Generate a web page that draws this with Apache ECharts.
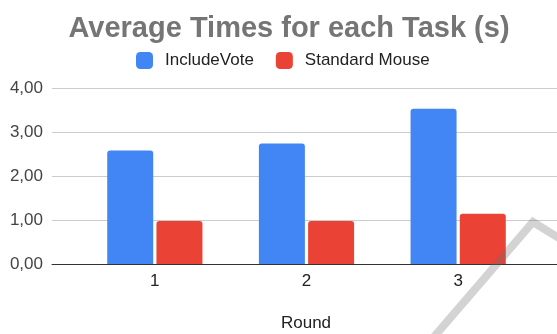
<!DOCTYPE html>
<html>
<head>
<meta charset="utf-8">
<script src="https://cdn.jsdelivr.net/npm/echarts@6/dist/echarts.min.js"></script>
<style>
  html, body { margin: 0; padding: 0; background: #fff; }
  #chart { width: 557px; height: 334px; }
</style>
</head>
<body>
<div id="chart"></div>
<script>
// Rounds on the x axis and average task times (seconds) per input method
const rounds = ['1', '2', '3'];
const includeVote = [2.58, 2.74, 3.53];
const standardMouse = [0.98, 0.98, 1.14];
const seriesNames = ['IncludeVote', 'Standard Mouse'];
const yTicks = { min: 0, max: 4, interval: 1 };

const FONT = 'Arial, "Liberation Sans", sans-serif';
const fmt = v => v.toFixed(2).replace('.', ',');

const chart = echarts.init(document.getElementById('chart'), null, { renderer: 'canvas' });

chart.setOption({
  animation: false,
  backgroundColor: '#ffffff',
  color: ['#4285F4', '#EA4335'],
  title: {
    text: 'Average Times for each Task (s)',
    left: 284,
    textAlign: 'center',
    top: 9,
    textStyle: { fontFamily: FONT, fontWeight: 'bold', fontSize: 29, color: '#757575' }
  },
  legend: {
    data: seriesNames,
    left: 131,
    top: 47,
    itemWidth: 17,
    itemHeight: 17,
    itemGap: 22,
    icon: 'roundRect',
    textStyle: { fontFamily: FONT, fontSize: 17, color: '#222222', padding: [0, 0, 0, 7] }
  },
  grid: [
    // full-width frame carrying the value axis, gridlines and baseline
    { left: 52, right: 0, top: 88, height: 176, containLabel: false },
    // bar area
    { left: 79, width: 455, top: 88, height: 176, containLabel: false }
  ],
  xAxis: [
    {
      gridIndex: 0, type: 'value', min: 0, max: 1,
      axisLabel: { show: false }, axisTick: { show: false }, splitLine: { show: false },
      axisLine: { show: true, lineStyle: { color: '#333333', width: 1 } }
    },
    {
      gridIndex: 1, type: 'category', data: rounds,
      axisLine: { show: false }, axisTick: { show: false },
      axisLabel: { fontFamily: FONT, fontSize: 17, color: '#222222', margin: 9 }
    }
  ],
  yAxis: [
    {
      gridIndex: 0, type: 'value', min: yTicks.min, max: yTicks.max, interval: yTicks.interval,
      axisLine: { show: false }, axisTick: { show: false },
      axisLabel: { fontFamily: FONT, fontSize: 17, color: '#444444', margin: 9, formatter: fmt },
      splitLine: { lineStyle: { color: '#cccccc', width: 1 } }
    },
    {
      gridIndex: 1, type: 'value', min: yTicks.min, max: yTicks.max, interval: yTicks.interval,
      show: false
    }
  ],
  series: [
    {
      name: seriesNames[0], type: 'bar', xAxisIndex: 1, yAxisIndex: 1,
      data: includeVote, barWidth: 46, barGap: '7%',
      itemStyle: { borderRadius: [3, 3, 0, 0] }
    },
    {
      name: seriesNames[1], type: 'bar', xAxisIndex: 1, yAxisIndex: 1,
      data: standardMouse, barWidth: 46, barGap: '7%',
      itemStyle: { borderRadius: [3, 3, 0, 0] }
    }
  ],
  graphic: [
    {
      // x-axis title
      type: 'text', z: 10,
      style: {
        text: 'Round', x: 306, y: 323, align: 'center', verticalAlign: 'middle',
        fontFamily: FONT, fontSize: 17, fill: '#222222'
      }
    },
    {
      // faint chevron mark in the lower right corner
      type: 'polyline', z: 100, silent: true,
      shape: { points: [[433, 338], [533, 222], [562, 240]] },
      style: { stroke: 'rgba(110,110,110,0.3)', lineWidth: 8, fill: null }
    }
  ]
});
</script>
</body>
</html>
